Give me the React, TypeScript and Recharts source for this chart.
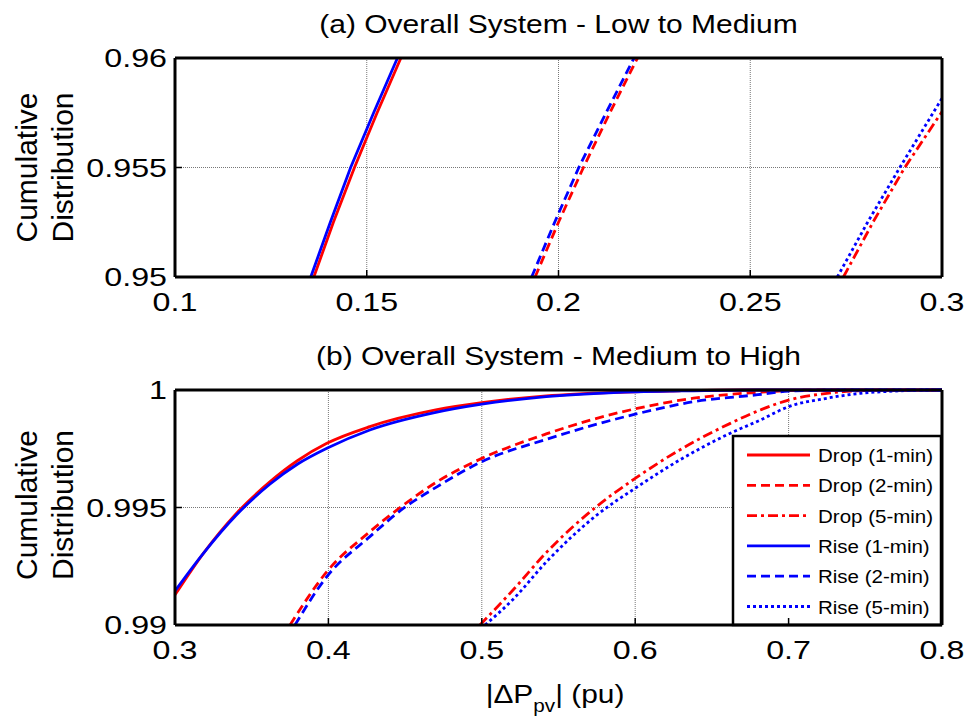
import React from 'react'
import { LineChart, Line, XAxis, YAxis, CartesianGrid } from 'recharts'

const FONT = '"Liberation Sans", Arial, Helvetica, sans-serif'

// (a) Low to Medium  -- x values read at each y level
const lowLevels = [0.95, 0.9525, 0.955, 0.9575, 0.96]
const lowDrop1 = [0.1362, 0.1413, 0.1468, 0.1527, 0.1589]
const lowRise1 = [0.1354, 0.1405, 0.1458, 0.1518, 0.158]
const lowDrop2 = [0.1939, 0.2, 0.2065, 0.2134, 0.2206]
const lowRise2 = [0.193, 0.199, 0.2053, 0.2124, 0.2197]
const lowDrop5X = [0.2743, 0.282, 0.2903, 0.3]
const lowDrop5Y = [0.95, 0.9525, 0.955, 0.95755]
const lowRise5X = [0.2727, 0.2806, 0.289, 0.3]
const lowRise5Y = [0.95, 0.9525, 0.955, 0.95816]

// (b) Medium to High
const highDrop1X = [0.3, 0.3185, 0.34, 0.362, 0.38, 0.399, 0.427, 0.47, 0.5, 0.542, 0.586, 0.63, 0.67, 0.8]
const highDrop1Y = [0.99128, 0.99305, 0.99475, 0.9961, 0.997, 0.99773, 0.99844, 0.99915, 0.99946, 0.99975, 0.9999, 0.99997, 1, 1]
const highRise1X = [0.3, 0.3185, 0.34, 0.362, 0.38, 0.399, 0.427, 0.47, 0.5, 0.542, 0.586, 0.63, 0.68, 0.8]
const highRise1Y = [0.99145, 0.99305, 0.99468, 0.996, 0.99685, 0.99752, 0.9983, 0.99905, 0.9994, 0.99972, 0.99989, 0.99996, 1, 1]
const highDrop2X = [0.375, 0.399, 0.427, 0.449, 0.471, 0.5, 0.542, 0.6, 0.638, 0.68, 0.72, 0.8]
const highDrop2Y = [0.99, 0.99227, 0.99397, 0.99511, 0.9961, 0.99709, 0.99813, 0.9992, 0.99965, 0.9999, 1, 1]
const highRise2X = [0.3782, 0.399, 0.427, 0.449, 0.471, 0.5, 0.542, 0.6, 0.638, 0.68, 0.7, 0.74, 0.8]
const highRise2Y = [0.99, 0.99206, 0.99376, 0.99497, 0.99589, 0.99695, 0.9979, 0.99897, 0.9995, 0.9998, 0.99995, 1, 1]
const highDrop5X = [0.4988, 0.5205, 0.5423, 0.575, 0.6, 0.629, 0.662, 0.6815, 0.7, 0.725, 0.747, 0.77, 0.8]
const highDrop5Y = [0.99, 0.9915, 0.9931, 0.99505, 0.99624, 0.99745, 0.99858, 0.99915, 0.99957, 0.99986, 0.99997, 1, 1]
const highRise5X = [0.5021, 0.5205, 0.5423, 0.575, 0.6, 0.629, 0.662, 0.6815, 0.7, 0.725, 0.747, 0.768, 0.79, 0.8]
const highRise5Y = [0.99, 0.9911, 0.9927, 0.99468, 0.99582, 0.99702, 0.99816, 0.99872, 0.99929, 0.99965, 0.99986, 0.99995, 1, 1]

const lowXTicks = [0.1, 0.15, 0.2, 0.25, 0.3]
const lowYTicks = [0.95, 0.955, 0.96]
const highXTicks = [0.3, 0.4, 0.5, 0.6, 0.7, 0.8]
const highYTicks = [0.99, 0.995, 1]

const names = ['Drop (1-min)', 'Drop (2-min)', 'Drop (5-min)', 'Rise (1-min)', 'Rise (2-min)', 'Rise (5-min)']
const colors = ['#ff0000', '#ff0000', '#ff0000', '#0000ff', '#0000ff', '#0000ff']
const dashes = [undefined, '9 5', '10 4 3 4', undefined, '9 5', '3 3']

const zip = (xs: number[], ys: number[]) => xs.map((x, i) => ({ x, y: ys[i] }))

const lowSeries = [
  zip(lowDrop1, lowLevels),
  zip(lowDrop2, lowLevels),
  zip(lowDrop5X, lowDrop5Y),
  zip(lowRise1, lowLevels),
  zip(lowRise2, lowLevels),
  zip(lowRise5X, lowRise5Y),
]
const highSeries = [
  zip(highDrop1X, highDrop1Y),
  zip(highDrop2X, highDrop2Y),
  zip(highDrop5X, highDrop5Y),
  zip(highRise1X, highRise1Y),
  zip(highRise2X, highRise2Y),
  zip(highRise5X, highRise5Y),
]

// stretched text, the figure is wider than its fonts
function STxt({ x, y, size, anchor = 'middle', sx = 1.2, rotate, children }: any) {
  const t = `translate(${x},${y}) scale(${sx},1)${rotate ? ` rotate(${rotate})` : ''}`
  return (
    <text transform={t} x={0} y={0} textAnchor={anchor} fontSize={size} fontFamily={FONT} fill="#000">
      {children}
    </text>
  )
}

const BottomTick = ({ x, y, payload }: any) => (
  <g>
    <line x1={x} x2={x} y1={y} y2={y - 7} stroke="#000" strokeWidth={1.5} />
    <STxt x={x} y={y + 34} size={26} sx={1.24}>{String(payload.value)}</STxt>
  </g>
)
const TopTick = ({ x, y }: any) => <line x1={x} x2={x} y1={y} y2={y + 7} stroke="#000" strokeWidth={1.5} />
const LeftTick = ({ x, y, payload }: any) => (
  <g>
    <line x1={x} x2={x + 7} y1={y} y2={y} stroke="#000" strokeWidth={1.5} />
    <STxt x={x - 8} y={y + 9} size={26} sx={1.24} anchor="end">{String(payload.value)}</STxt>
  </g>
)
const RightTick = ({ x, y }: any) => <line x1={x} x2={x - 7} y1={y} y2={y} stroke="#000" strokeWidth={1.5} />

const YLab = ({ cy }: { cy: number }) => (
  <g>
    <text transform={`translate(37,${cy}) rotate(-90)`} textAnchor="middle" fontSize={30} fontFamily={FONT}>Cumulative</text>
    <text transform={`translate(73,${cy}) rotate(-90)`} textAnchor="middle" fontSize={30} fontFamily={FONT}>Distribution</text>
  </g>
)

const LegendBox = () => (
  <g>
    <rect x={733} y={106} width={208} height={189} fill="#fff" stroke="#000" strokeWidth={2.5} />
    {names.map((n, i) => {
      const cy = 125 + i * 30.3
      return (
        <g key={n}>
          <line x1={747} x2={810} y1={cy} y2={cy} stroke={colors[i]} strokeWidth={2.8} strokeDasharray={dashes[i]} />
          <STxt x={818} y={cy + 7} size={19} anchor="start" sx={1.08}>{n}</STxt>
        </g>
      )
    })}
  </g>
)

// axes are 1px thick so recharts draws them; margins are reduced by that pixel
function Panel({ series, xTicks, yTicks, width, height, margin, curve, children }: any) {
  const xd = [xTicks[0], xTicks[xTicks.length - 1]]
  const yd = [yTicks[0], yTicks[yTicks.length - 1]]
  const axisLine = { stroke: '#000', strokeWidth: 3 }
  return (
    <LineChart width={width} height={height} margin={margin}>
      <CartesianGrid stroke="#777" strokeDasharray="1 1" strokeWidth={1} />
      {series.map((d: any, i: number) => (
        <Line key={names[i]} data={d} dataKey="y" name={names[i]} type={curve} stroke={colors[i]}
          strokeWidth={2.8} strokeDasharray={dashes[i]} dot={false} isAnimationActive={false} />
      ))}
      <XAxis dataKey="x" type="number" domain={xd} ticks={xTicks} height={1} tickSize={0} tickMargin={0}
        tickLine={false} axisLine={axisLine} tick={BottomTick} interval={0} />
      <XAxis xAxisId="top" orientation="top" dataKey="x" type="number" domain={xd} ticks={xTicks} height={1}
        tickSize={0} tickMargin={0} tickLine={false} axisLine={axisLine} tick={TopTick} interval={0} />
      <YAxis dataKey="y" type="number" domain={yd} ticks={yTicks} width={1} tickSize={0} tickMargin={0}
        tickLine={false} axisLine={axisLine} tick={LeftTick} interval={0} />
      <YAxis yAxisId="right" orientation="right" type="number" domain={yd} ticks={yTicks} width={1} tickSize={0}
        tickMargin={0} tickLine={false} axisLine={axisLine} tick={RightTick} interval={0} />
      {children}
    </LineChart>
  )
}

export default function App() {
  return (
    <div style={{ position: 'absolute', left: 0, top: 0, width: 969, height: 719, background: '#fff' }}>
      <div style={{ position: 'absolute', left: 0, top: 0 }}>
        <Panel series={lowSeries} xTicks={lowXTicks} yTicks={lowYTicks} width={969} height={330} curve="linear"
          margin={{ top: 57, right: 26, bottom: 52, left: 174 }}>
          <STxt x={558.5} y={33} size={25}>(a) Overall System - Low to Medium</STxt>
          <YLab cy={167.5} />
        </Panel>
      </div>
      <div style={{ position: 'absolute', left: 0, top: 330 }}>
        <Panel series={highSeries} xTicks={highXTicks} yTicks={highYTicks} width={969} height={389} curve="monotone"
          margin={{ top: 59, right: 26, bottom: 93, left: 174 }}>
          <STxt x={558.5} y={35} size={25}>(b) Overall System - Medium to High</STxt>
          <YLab cy={175} />
          <LegendBox />
          <STxt x={555} y={373} size={26} sx={1.15}>
            |ΔP<tspan dy={9} fontSize={18}>pv</tspan><tspan dy={-9}>| (pu)</tspan>
          </STxt>
        </Panel>
      </div>
    </div>
  )
}
